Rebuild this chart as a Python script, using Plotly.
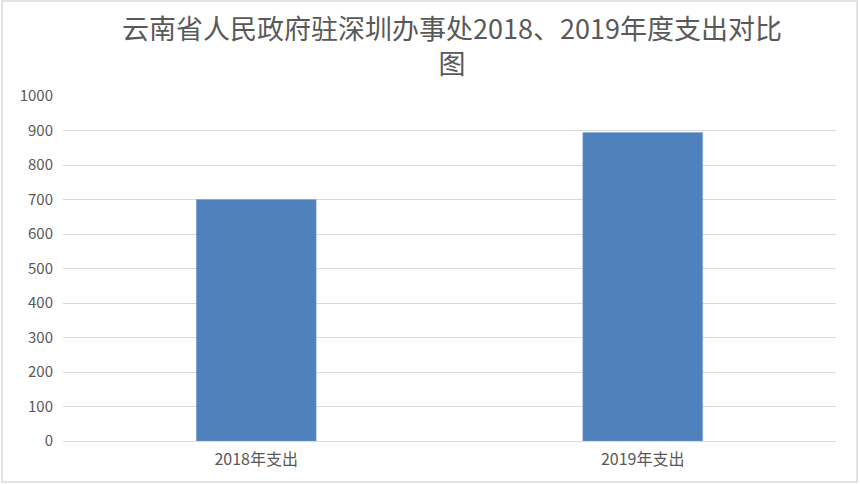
import plotly.graph_objects as go

# data
categories = ['2018年支出', '2019年支出']
spending = [700, 894]
y_ticks = [0, 100, 200, 300, 400, 500, 600, 700, 800, 900, 1000]

title_text = '云南省人民政府驻深圳办事处2018、2019年度支出对比<br>图'

W, H = 860, 484
left, right, top, bottom = 63, 24, 96, 43
pw = W - left - right
ph = H - top - bottom

fig = go.Figure(go.Bar(
    x=categories,
    y=spending,
    marker=dict(color='#4F81BD', line=dict(color='#7FA3D3', width=0.5)),
    width=0.31,
))

fig.update_layout(
    width=W, height=H,
    margin=dict(l=left, r=right, t=top, b=bottom),
    paper_bgcolor='white',
    plot_bgcolor='white',
    font=dict(family='Noto Sans CJK SC, sans-serif', color='#595959'),
    title=dict(
        text=title_text,
        x=452 / W, xanchor='center',
        y=1 - 39 / H, yanchor='top',
        font=dict(size=27, color='#595959'),
    ),
    showlegend=False,
    bargap=0.69,
)

fig.update_xaxes(
    showline=False, showgrid=False, ticks='',
    tickfont=dict(size=16, color='#595959'),
    ticklabelstandoff=7,
)
fig.update_yaxes(
    range=[0, 1000],
    tickvals=y_ticks,
    showgrid=True, gridcolor='#D9D9D9', gridwidth=1,
    zeroline=True, zerolinecolor='#D9D9D9', zerolinewidth=1,
    showline=False, ticks='',
    tickfont=dict(size=15, color='#595959'),
    ticklabelstandoff=9,
)

# outer chart border
fig.add_shape(
    type='rect', xref='paper', yref='paper',
    x0=(2 - left) / pw, x1=(857 - left) / pw,
    y0=-(482 - (H - bottom)) / ph, y1=(H - bottom - 1) / ph,
    line=dict(color='#D9D9D9', width=1.5),
    fillcolor='rgba(0,0,0,0)',
    layer='below',
)

# drop the default page margin so the figure sits at the window corner
fig.write_html('out.html', config={'displayModeBar': False},
               post_script="document.body.style.margin='0';")
